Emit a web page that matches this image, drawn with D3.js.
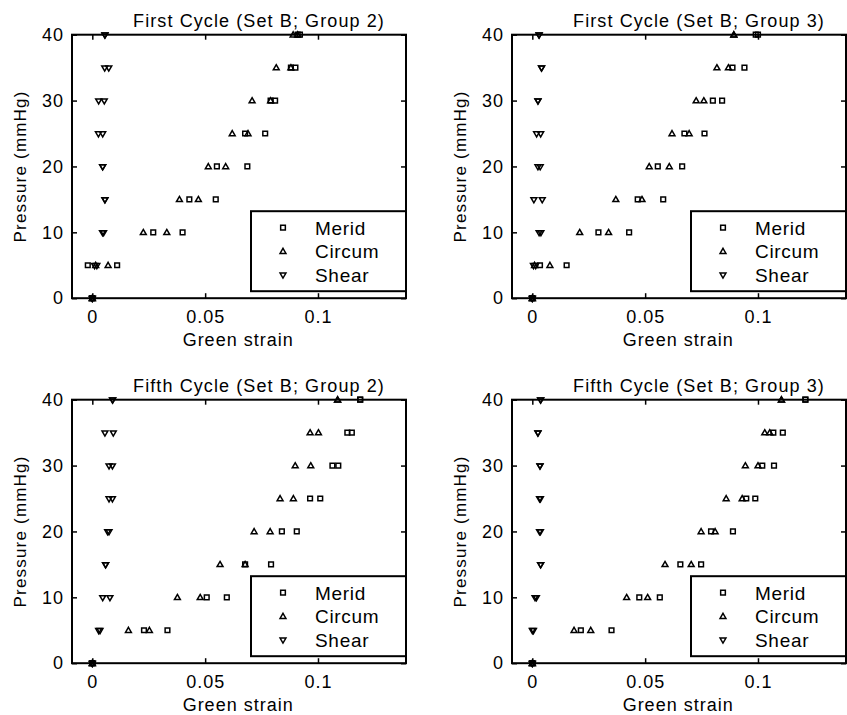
<!DOCTYPE html>
<html>
<head>
<meta charset="utf-8">
<script src="https://cdn.jsdelivr.net/npm/d3@7"></script>
<style>
  body { margin: 0; background: #fff; }
  text { font-family: "Liberation Sans", Arial, Helvetica, sans-serif; fill: #000; }
</style>
</head>
<body>
<svg id="chart" width="847" height="715"></svg>
<script>
// pressure levels (mmHg) shared by every specimen
var pressure = [0, 5, 10, 15, 20, 25, 30, 35, 40];
var xTicks = [0, 0.05, 0.1];
var yTicks = [0, 10, 20, 30, 40];
var seriesNames = ["Merid", "Circum", "Shear"];
var titles = [
    "First Cycle (Set B; Group 2)",
    "First Cycle (Set B; Group 3)",
    "Fifth Cycle (Set B; Group 2)",
    "Fifth Cycle (Set B; Group 3)"
];

// Green strain, two specimens per series, one value per pressure level
var c1g2Merid  = [[0, -0.002, 0.027, 0.043, 0.0552, 0.0677, 0.079, 0.088, 0.091],
                  [0, 0.011, 0.040, 0.0547, 0.0687, 0.0766, 0.081, 0.090, 0.092]];
var c1g2Circum = [[0, 0.0015, 0.0226, 0.0386, 0.0514, 0.062, 0.0708, 0.0815, 0.089],
                  [0, 0.007, 0.033, 0.047, 0.0591, 0.069, 0.079, 0.088, 0.091]];
var c1g2Shear  = [[0, 0.001, 0.0045, 0.0056, 0.0046, 0.0027, 0.0028, 0.0055, 0.0056],
                  [0, 0.002, 0.005, 0.0056, 0.0046, 0.0046, 0.0053, 0.0073, 0.0056]];

var c1g3Merid  = [[0, 0.0034, 0.0293, 0.0467, 0.0556, 0.0674, 0.080, 0.0887, 0.099],
                  [0, 0.0152, 0.0429, 0.058, 0.0664, 0.0763, 0.0841, 0.094, 0.100]];
var c1g3Circum = [[0, 0.001, 0.021, 0.037, 0.0518, 0.0619, 0.0726, 0.0818, 0.0893],
                  [0, 0.0078, 0.0338, 0.0486, 0.0607, 0.0695, 0.076, 0.0869, 0.0893]];
var c1g3Shear  = [[0, 0.0005, 0.003, 0.0007, 0.0025, 0.0019, 0.0025, 0.0041, 0.003],
                  [0, 0.0015, 0.0038, 0.0044, 0.0035, 0.0037, 0.0025, 0.0041, 0.003]];

var c5g2Merid  = [[0, 0.0229, 0.0507, 0.0677, 0.084, 0.0965, 0.1064, 0.113, 0.1187],
                  [0, 0.0333, 0.0596, 0.0792, 0.0906, 0.101, 0.109, 0.115, 0.1187]];
var c5g2Circum = [[0, 0.016, 0.0377, 0.0566, 0.0717, 0.0832, 0.0899, 0.0965, 0.1087],
                  [0, 0.0253, 0.0478, 0.0677, 0.0788, 0.0891, 0.0968, 0.1002, 0.1087]];
var c5g2Shear  = [[0, 0.0028, 0.0046, 0.0059, 0.0068, 0.0074, 0.0074, 0.0056, 0.009],
                  [0, 0.0034, 0.0078, 0.0059, 0.0074, 0.0089, 0.0089, 0.0093, 0.009]];

var c5g3Merid  = [[0, 0.0215, 0.0474, 0.0656, 0.0792, 0.0948, 0.1019, 0.1068, 0.121],
                  [0, 0.0351, 0.0565, 0.0748, 0.0889, 0.0988, 0.1071, 0.111, 0.121]];
var c5g3Circum = [[0, 0.0185, 0.0418, 0.0588, 0.0748, 0.0859, 0.0944, 0.103, 0.1104],
                  [0, 0.0259, 0.0511, 0.0704, 0.081, 0.093, 0.1, 0.1052, 0.1104]];
var c5g3Shear  = [[0, 0, 0.0012, 0.0037, 0.0032, 0.0032, 0.0034, 0.0025, 0.0037],
                  [0, 0.0005, 0.0018, 0.0037, 0.0036, 0.0036, 0.0034, 0.0025, 0.0037]];

var panelData = [
    [c1g2Merid, c1g2Circum, c1g2Shear],
    [c1g3Merid, c1g3Circum, c1g3Shear],
    [c5g2Merid, c5g2Circum, c5g2Shear],
    [c5g3Merid, c5g3Circum, c5g3Shear]
];

var svg = d3.select("#chart");
var W = 334, H = 263.5;
var origins = [[72, 34.7], [512, 34.7], [72, 399.7], [512, 399.7]];

var symSquare = d3.symbol().type(d3.symbolSquare).size(22)();
var symTri = d3.symbol().type(d3.symbolTriangle).size(15)();

function marker(g, k, x, y) {
    var p = g.append("path")
        .attr("d", k === 0 ? symSquare : symTri)
        .attr("fill", "none")
        .attr("stroke", "black")
        .attr("stroke-width", 1.5);
    if (k === 2) p.attr("transform", "translate(" + x + "," + y + ") rotate(180)");
    else if (k === 1) p.attr("transform", "translate(" + x + "," + (y + 0.5) + ")");
    else p.attr("transform", "translate(" + x + "," + y + ")");
}

panelData.forEach(function (series, i) {
    var g = svg.append("g")
        .attr("transform", "translate(" + origins[i][0] + "," + origins[i][1] + ")");
    var x = d3.scaleLinear().domain([-0.009, 0.139]).range([0, W]);
    var y = d3.scaleLinear().domain([0, 40]).range([H, 0]);

    // inward ticks on all four sides
    g.append("g").attr("class", "ax").attr("transform", "translate(0," + H + ")")
        .call(d3.axisBottom(x).tickValues(xTicks).tickSize(-5).tickPadding(12)
            .tickFormat(function (d) { return d === 0 ? "0" : String(d); }));
    g.append("g")
        .call(d3.axisTop(x).tickValues(xTicks).tickSize(-5).tickFormat(""));
    g.append("g").attr("class", "ax")
        .call(d3.axisLeft(y).tickValues(yTicks).tickSize(-5).tickPadding(8));
    g.append("g").attr("transform", "translate(" + W + ",0)")
        .call(d3.axisRight(y).tickValues(yTicks).tickSize(-5).tickFormat(""));
    g.selectAll(".domain").remove();
    g.selectAll(".tick line").attr("stroke", "black").attr("stroke-width", 1.5);
    g.selectAll(".ax")
        .attr("font-size", 18)
        .attr("font-family", "'Liberation Sans', Arial, sans-serif");
    g.selectAll(".tick text")
        .attr("letter-spacing", "1px")
        .attr("fill", "black");

    g.append("rect")
        .attr("width", W).attr("height", H)
        .attr("fill", "none").attr("stroke", "black").attr("stroke-width", 2);

    // data points
    series.forEach(function (specimens, k) {
        specimens.forEach(function (vals) {
            vals.forEach(function (v, j) {
                marker(g, k, x(v), y(pressure[j]));
            });
        });
    });

    // legend
    var lg = g.append("g").attr("transform", "translate(" + (W - 155) + "," + (H - 87) + ")");
    lg.append("rect").attr("width", 155).attr("height", 80)
        .attr("fill", "white").attr("stroke", "black").attr("stroke-width", 2);
    seriesNames.forEach(function (name, k) {
        var yy = 16.5 + k * 23.5;
        marker(lg, k, 32, yy);
        lg.append("text")
            .attr("x", 64).attr("y", yy + 7)
            .attr("font-size", "19px")
            .attr("letter-spacing", "0.7px")
            .text(name);
    });

    g.append("text")
        .attr("x", W / 2 + 20).attr("y", -8)
        .attr("text-anchor", "middle")
        .attr("font-size", "18px")
        .attr("letter-spacing", "1.1px")
        .text(titles[i]);
    g.append("text")
        .attr("x", x(0.05) + 33).attr("y", H + 48)
        .attr("text-anchor", "middle")
        .attr("font-size", "18px")
        .attr("letter-spacing", "1px")
        .text("Green strain");
    g.append("text")
        .attr("transform", "translate(-46," + (H / 2) + ") rotate(-90)")
        .attr("text-anchor", "middle")
        .attr("font-size", "17px")
        .attr("letter-spacing", "1.2px")
        .text("Pressure (mmHg)");
});
</script>
</body>
</html>
